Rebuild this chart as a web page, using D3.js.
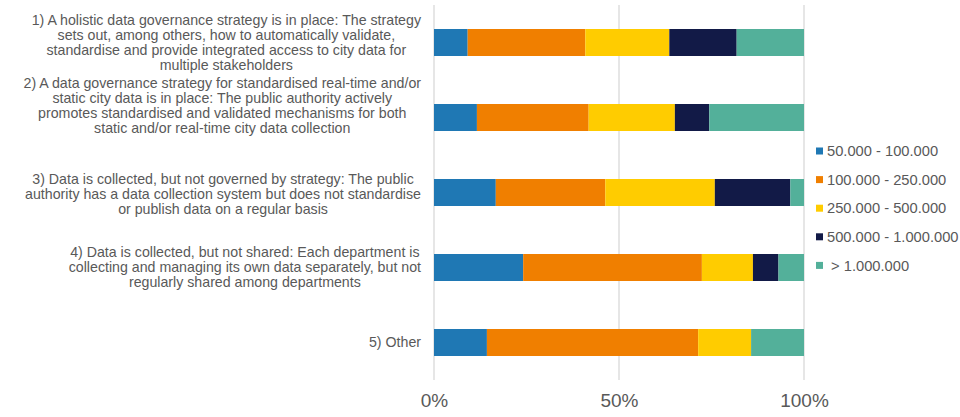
<!DOCTYPE html>
<html>
<head>
<meta charset="utf-8">
<script src="https://cdn.jsdelivr.net/npm/d3@7"></script>
<style>
  body { margin: 0; background: #fff; }
  svg { display: block; font-family: "Liberation Sans", Arial, sans-serif; }
</style>
</head>
<body>
<svg id="chart" width="960" height="417"></svg>
<script>
// categories (each label already split into its lines)
const categories = [
  ['1) A holistic data governance strategy is in place: The strategy',
   'sets out, among others, how to automatically validate,',
   'standardise and provide integrated access to city data for',
   'multiple stakeholders'],
  ['2) A data governance strategy for standardised real-time and/or',
   'static city data is in place: The public authority actively',
   'promotes standardised and validated mechanisms for both',
   'static and/or real-time city data collection'],
  ['3) Data is collected, but not governed by strategy: The public',
   'authority has a data collection system but does not standardise',
   'or publish data on a regular basis'],
  ['4) Data is collected, but not shared: Each department is',
   'collecting and managing its own data separately, but not',
   'regularly shared among departments'],
  ['5) Other']
]

const seriesNames = ['50.000 - 100.000', '100.000 - 250.000', '250.000 - 500.000',
                     '500.000 - 1.000.000', '\u00a0> 1.000.000']
const colors = ['#1f78b4', '#f07f00', '#ffcc00', '#121a47', '#53b09a']

// share of each population class per category (%)
const pop50k   = [9.1, 11.6, 16.7, 24.1, 14.3]
const pop100k  = [31.8, 30.2, 29.6, 48.3, 57.1]
const pop250k  = [22.7, 23.3, 29.6, 13.8, 14.3]
const pop500k  = [18.2, 9.3, 20.4, 6.9, 0]
const pop1m    = [18.2, 25.6, 3.7, 6.9, 14.3]

const tickValues = [0, 0.5, 1]

const svg = d3.select('#chart')
const margin = {left: 434, right: 156, top: 5, bottom: 37}
const W = 960, H = 417

const rows = categories.map((c, i) => ({
  i,
  lines: c,
  v: [pop50k[i], pop100k[i], pop250k[i], pop500k[i], pop1m[i]]
}))

const x = d3.scaleLinear().domain([0, 1]).range([margin.left, W - margin.right])
const y = d3.scaleBand().domain(d3.range(categories.length))
  .range([margin.top, H - margin.bottom])
  .paddingInner(0.64).paddingOuter(0.32)

// gridlines
svg.append('g')
  .selectAll('line')
  .data(tickValues)
  .join('line')
  .attr('x1', d => x(d)).attr('x2', d => x(d))
  .attr('y1', margin.top).attr('y2', H - margin.bottom)
  .attr('stroke', '#d9d9d9')
  .attr('stroke-width', 1.3)

// stacked bars (percent stacked)
const stackInput = rows.map(r => {
  const total = d3.sum(r.v)
  const o = {i: r.i}
  r.v.forEach((v, k) => o[k] = v / total)
  return o
})
const stack = d3.stack().keys(d3.range(seriesNames.length))
const layers = stack(stackInput)

svg.append('g')
  .selectAll('g')
  .data(layers)
  .join('g')
  .attr('fill', (d, k) => colors[k])
  .selectAll('rect')
  .data(d => d)
  .join('rect')
  .attr('x', d => x(d[0]))
  .attr('width', d => x(d[1]) - x(d[0]))
  .attr('y', d => y(d.data.i))
  .attr('height', y.bandwidth())

// x axis labels
const xAxis = d3.axisBottom(x).tickValues(tickValues).tickFormat(d3.format('.0%')).tickSize(0).tickPadding(14)
svg.append('g')
  .attr('transform', `translate(0,${H - margin.bottom})`)
  .call(xAxis)
  .call(g => g.select('.domain').remove())
  .call(g => g.selectAll('text')
    .attr('fill', '#595959')
    .attr('font-size', 19)
    .attr('font-family', '"Liberation Sans", Arial, sans-serif'))

// category labels: block right-aligned, lines centered inside block
const labelRight = 421
const lineH = 15
const labelShift = [0, -12, 2, 0, 0]
const lab = svg.append('g')
  .attr('fill', '#595959')
  .attr('font-size', 14.2)

rows.forEach(r => {
  const t = lab.append('text').attr('text-anchor', 'middle')
  const cy = y(r.i) + y.bandwidth() / 2 + labelShift[r.i]
  const y0 = cy - (r.lines.length - 1) * lineH / 2
  const spans = t.selectAll('tspan')
    .data(r.lines)
    .join('tspan')
    .attr('y', (d, j) => y0 + j * lineH)
    .attr('dy', '0.35em')
    .text(d => d)
  let maxW = 0
  spans.each(function() { maxW = Math.max(maxW, this.getComputedTextLength()) })
  spans.attr('x', labelRight - maxW / 2)
})

// legend
const legend = svg.append('g').attr('transform', 'translate(816,151)')
const item = legend.selectAll('g')
  .data(seriesNames)
  .join('g')
  .attr('transform', (d, k) => `translate(0,${k * 28.6})`)
item.append('rect')
  .attr('x', 0).attr('y', -3.5)
  .attr('width', 7).attr('height', 7)
  .attr('fill', (d, k) => colors[k])
item.append('text')
  .attr('x', 11).attr('dy', '0.35em')
  .attr('fill', '#595959')
  .attr('font-size', 14.7)
  .text(d => d)
</script>
</body>
</html>
